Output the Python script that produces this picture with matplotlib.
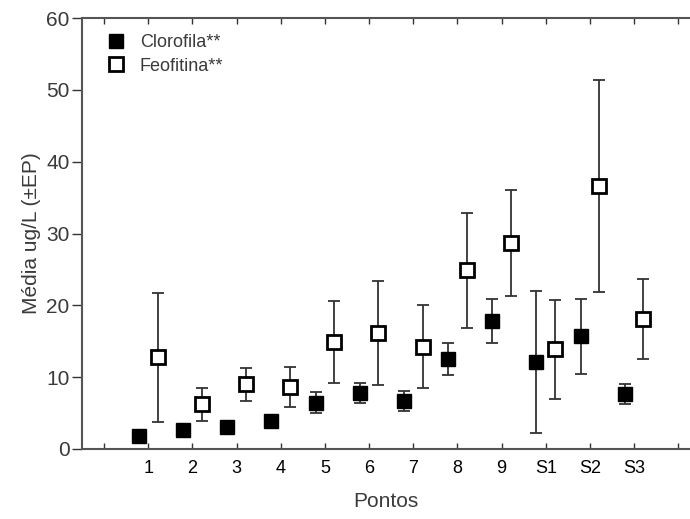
#!/usr/bin/env python3
"""Clorofila / Feofitina means per sampling point, with +/- EP error bars."""
import matplotlib
matplotlib.use('Agg')
import matplotlib.pyplot as plt
from matplotlib.lines import Line2D

plt.rcParams['font.family'] = ['Liberation Sans', 'DejaVu Sans']

PONTOS = ['1', '2', '3', '4', '5', '6', '7', '8', '9', 'S1', 'S2', 'S3']

CLOROFILA = [1.8, 2.6, 3.1, 3.9, 6.45, 7.85, 6.7, 12.5, 17.8, 12.15, 15.7, 7.65]
CLOROFILA_EP = [0.3, 0.4, 0.4, 0.5, 1.5, 1.4, 1.35, 2.25, 3.05, 9.9, 5.2, 1.4]

FEOFITINA = [12.75, 6.2, 9.0, 8.6, 14.85, 16.15, 14.25, 24.9, 28.7, 13.9, 36.6, 18.05]
FEOFITINA_EP = [8.95, 2.35, 2.3, 2.75, 5.7, 7.2, 5.8, 8.0, 7.4, 6.9, 14.8, 5.55]

OFFSET = 0.21
LINE_COLOR = '#333333'
TEXT_COLOR = '#3a3a3a'


def main():
    fig = plt.figure(figsize=(6.9, 5.19), dpi=100)
    ax = fig.add_axes([82 / 690, 1 - 449 / 519, (690 - 82) / 690, (449 - 18) / 519])

    pos = list(range(1, len(PONTOS) + 1))
    xc = [p - OFFSET for p in pos]
    xf = [p + OFFSET for p in pos]

    ax.errorbar(xc, CLOROFILA, yerr=CLOROFILA_EP, fmt='none', ecolor=LINE_COLOR,
                elinewidth=1.3, capsize=4.5, capthick=1.3, zorder=2)
    ax.errorbar(xf, FEOFITINA, yerr=FEOFITINA_EP, fmt='none', ecolor=LINE_COLOR,
                elinewidth=1.3, capsize=4.5, capthick=1.3, zorder=2)
    ax.plot(xc, CLOROFILA, 's', color='black', markersize=10, linestyle='none', zorder=3)
    ax.plot(xf, FEOFITINA, 's', markerfacecolor='white', markeredgecolor='black',
            markeredgewidth=2, markersize=10, linestyle='none', zorder=3)

    ax.set_xlim(-0.5, (690 - 105) / 44.1)
    ax.set_ylim(0, 60)
    ax.set_yticks([0, 10, 20, 30, 40, 50, 60])

    ax.set_xticks(range(0, 14))
    ax.set_xticklabels([''] + PONTOS + [''], fontsize=13, color='black')
    ax.tick_params(axis='x', direction='in', length=4, width=1, color=LINE_COLOR,
                   top=True, pad=8)
    ax.tick_params(axis='y', direction='out', length=7, width=1, color=LINE_COLOR,
                   labelsize=15, labelcolor=TEXT_COLOR, pad=2)

    for side in ['left', 'bottom', 'top']:
        ax.spines[side].set_color('#555555')
        ax.spines[side].set_linewidth(1.5)
    ax.spines['right'].set_visible(False)

    ax.set_xlabel('Pontos', fontsize=15, color=TEXT_COLOR, labelpad=11)
    ax.set_ylabel('Média ug/L (±EP)', fontsize=15, color=TEXT_COLOR, labelpad=4)

    handles = [
        Line2D([], [], marker='s', color='black', linestyle='none', markersize=10),
        Line2D([], [], marker='s', markerfacecolor='white', markeredgecolor='black',
               markeredgewidth=2, linestyle='none', markersize=10),
    ]
    ax.legend(handles, ['Clorofila**', 'Feofitina**'], loc='upper left',
              bbox_to_anchor=(0.0, 1.0), frameon=False, fontsize=13,
              handletextpad=0.3, labelspacing=0.35, labelcolor=TEXT_COLOR)

    fig.savefig('out.png', dpi=100)
    plt.close(fig)


if __name__ == '__main__':
    main()
